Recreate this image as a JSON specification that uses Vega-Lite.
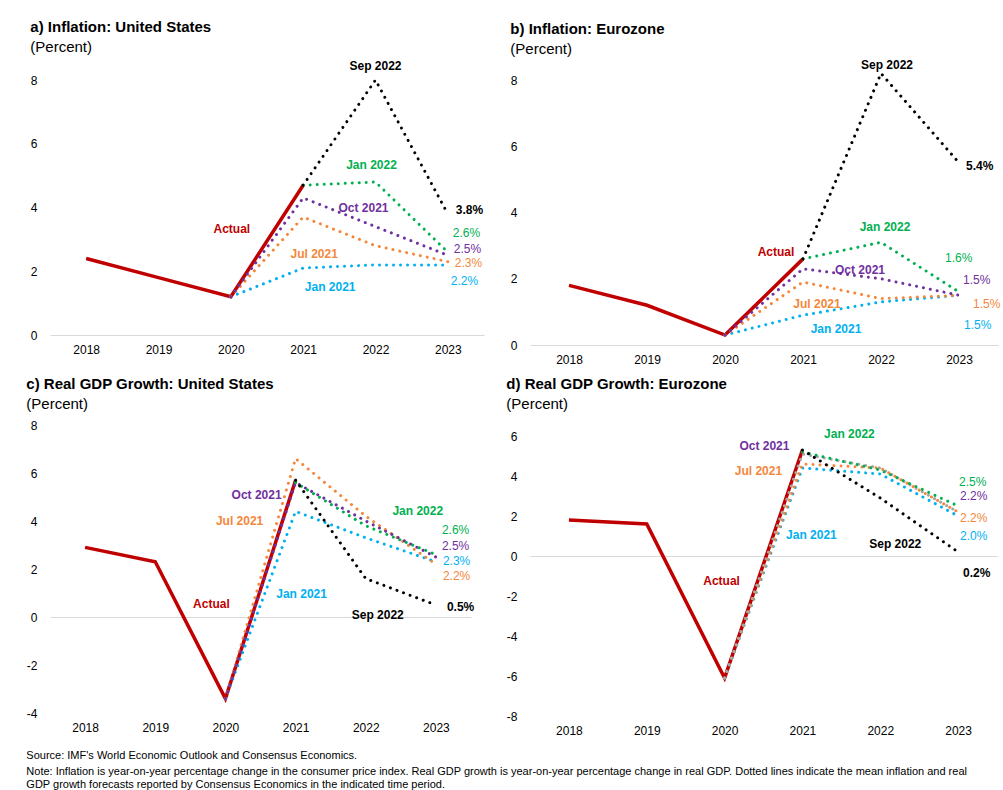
{
"$schema": "https://vega.github.io/schema/vega-lite/v6.json",
"background": "white",
"padding": {"left": 26, "top": 20, "right": 2, "bottom": 2},
"data": {"values": [
{"p":"a","s":"Actual","yr":"2018","v":2.4},{"p":"a","s":"Actual","yr":"2019","v":1.8},{"p":"a","s":"Actual","yr":"2020","v":1.2},{"p":"a","s":"Actual","yr":"2021","v":4.7},
{"p":"a","s":"Jan 2021","yr":"2020","v":1.2},{"p":"a","s":"Jan 2021","yr":"2021","v":2.1},{"p":"a","s":"Jan 2021","yr":"2022","v":2.2},{"p":"a","s":"Jan 2021","yr":"2023","v":2.2},
{"p":"a","s":"Jul 2021","yr":"2020","v":1.2},{"p":"a","s":"Jul 2021","yr":"2021","v":3.7},{"p":"a","s":"Jul 2021","yr":"2022","v":2.8},{"p":"a","s":"Jul 2021","yr":"2023","v":2.3},
{"p":"a","s":"Oct 2021","yr":"2020","v":1.2},{"p":"a","s":"Oct 2021","yr":"2021","v":4.3},{"p":"a","s":"Oct 2021","yr":"2022","v":3.4},{"p":"a","s":"Oct 2021","yr":"2023","v":2.5},
{"p":"a","s":"Jan 2022","yr":"2021","v":4.7},{"p":"a","s":"Jan 2022","yr":"2022","v":4.8},{"p":"a","s":"Jan 2022","yr":"2023","v":2.6},
{"p":"a","s":"Sep 2022","yr":"2021","v":4.7},{"p":"a","s":"Sep 2022","yr":"2022","v":8.0},{"p":"a","s":"Sep 2022","yr":"2023","v":3.8},
{"p":"b","s":"Actual","yr":"2018","v":1.8},{"p":"b","s":"Actual","yr":"2019","v":1.2},{"p":"b","s":"Actual","yr":"2020","v":0.3},{"p":"b","s":"Actual","yr":"2021","v":2.6},
{"p":"b","s":"Jan 2021","yr":"2020","v":0.3},{"p":"b","s":"Jan 2021","yr":"2021","v":0.9},{"p":"b","s":"Jan 2021","yr":"2022","v":1.3},{"p":"b","s":"Jan 2021","yr":"2023","v":1.5},
{"p":"b","s":"Jul 2021","yr":"2020","v":0.3},{"p":"b","s":"Jul 2021","yr":"2021","v":1.9},{"p":"b","s":"Jul 2021","yr":"2022","v":1.4},{"p":"b","s":"Jul 2021","yr":"2023","v":1.5},
{"p":"b","s":"Oct 2021","yr":"2020","v":0.3},{"p":"b","s":"Oct 2021","yr":"2021","v":2.3},{"p":"b","s":"Oct 2021","yr":"2022","v":2.0},{"p":"b","s":"Oct 2021","yr":"2023","v":1.5},
{"p":"b","s":"Jan 2022","yr":"2021","v":2.6},{"p":"b","s":"Jan 2022","yr":"2022","v":3.1},{"p":"b","s":"Jan 2022","yr":"2023","v":1.6},
{"p":"b","s":"Sep 2022","yr":"2021","v":2.6},{"p":"b","s":"Sep 2022","yr":"2022","v":8.2},{"p":"b","s":"Sep 2022","yr":"2023","v":5.5},
{"p":"c","s":"Actual","yr":"2018","v":2.9},{"p":"c","s":"Actual","yr":"2019","v":2.3},{"p":"c","s":"Actual","yr":"2020","v":-3.4},{"p":"c","s":"Actual","yr":"2021","v":5.7},
{"p":"c","s":"Jan 2021","yr":"2020","v":-3.4},{"p":"c","s":"Jan 2021","yr":"2021","v":4.4},{"p":"c","s":"Jan 2021","yr":"2022","v":3.3},{"p":"c","s":"Jan 2021","yr":"2023","v":2.3},
{"p":"c","s":"Jul 2021","yr":"2020","v":-3.4},{"p":"c","s":"Jul 2021","yr":"2021","v":6.6},{"p":"c","s":"Jul 2021","yr":"2022","v":4.2},{"p":"c","s":"Jul 2021","yr":"2023","v":2.2},
{"p":"c","s":"Oct 2021","yr":"2020","v":-3.4},{"p":"c","s":"Oct 2021","yr":"2021","v":5.6},{"p":"c","s":"Oct 2021","yr":"2022","v":4.0},{"p":"c","s":"Oct 2021","yr":"2023","v":2.5},
{"p":"c","s":"Jan 2022","yr":"2021","v":5.6},{"p":"c","s":"Jan 2022","yr":"2022","v":3.8},{"p":"c","s":"Jan 2022","yr":"2023","v":2.6},
{"p":"c","s":"Sep 2022","yr":"2021","v":5.7},{"p":"c","s":"Sep 2022","yr":"2022","v":1.6},{"p":"c","s":"Sep 2022","yr":"2023","v":0.5},
{"p":"d","s":"Actual","yr":"2018","v":1.8},{"p":"d","s":"Actual","yr":"2019","v":1.6},{"p":"d","s":"Actual","yr":"2020","v":-6.1},{"p":"d","s":"Actual","yr":"2021","v":5.3},
{"p":"d","s":"Jan 2021","yr":"2020","v":-6.1},{"p":"d","s":"Jan 2021","yr":"2021","v":4.4},{"p":"d","s":"Jan 2021","yr":"2022","v":4.1},{"p":"d","s":"Jan 2021","yr":"2023","v":2.0},
{"p":"d","s":"Jul 2021","yr":"2020","v":-6.1},{"p":"d","s":"Jul 2021","yr":"2021","v":4.6},{"p":"d","s":"Jul 2021","yr":"2022","v":4.4},{"p":"d","s":"Jul 2021","yr":"2023","v":2.2},
{"p":"d","s":"Oct 2021","yr":"2020","v":-6.1},{"p":"d","s":"Oct 2021","yr":"2021","v":5.1},{"p":"d","s":"Oct 2021","yr":"2022","v":4.4},{"p":"d","s":"Oct 2021","yr":"2023","v":2.2},
{"p":"d","s":"Jan 2022","yr":"2021","v":5.2},{"p":"d","s":"Jan 2022","yr":"2022","v":4.3},{"p":"d","s":"Jan 2022","yr":"2023","v":2.5},
{"p":"d","s":"Sep 2022","yr":"2021","v":5.3},{"p":"d","s":"Sep 2022","yr":"2022","v":2.9},{"p":"d","s":"Sep 2022","yr":"2023","v":0.2}
]},
"columns": 2,
"spacing": {"row": 80, "column": 46},
"bounds": "flush",
"resolve": {"scale": {"x": "independent", "y": "independent", "color": "independent"}},
"title": {"text": "Source: IMF's World Economic Outlook and Consensus Economics.", "subtitle": ["Note: Inflation is year-on-year percentage change in the consumer price index. Real GDP growth is year-on-year percentage change in real GDP. Dotted lines indicate the mean inflation and real", "GDP growth forecasts reported by Consensus Economics in the indicated time period."], "orient": "bottom", "anchor": "start", "frame": "bounds", "fontSize": 11, "fontWeight": "normal", "color": "#000", "subtitleFontSize": 11, "subtitleColor": "#000", "subtitlePadding": 5, "subtitleLineHeight": 13, "offset": 14},
"concat": [
{
"width": 434, "height": 255,
"title": {"text": "a) Inflation: United States", "subtitle": "(Percent)", "anchor": "start", "frame": "bounds", "offset": 5},
"transform": [{"filter": "datum.p==='a'"}],
"encoding": {
"x": {"field": "yr", "type": "ordinal", "scale": {"type": "point", "padding": 0.5}, "axis": {"labelAngle": 0, "labelPadding": 9, "title": null}},
"y": {"field": "v", "type": "quantitative", "scale": {"domain": [0, 8], "nice": false, "zero": false}, "axis": {"values": [0, 2, 4, 6, 8], "labelExpr": "datum.value + ''", "labelPadding": 13, "title": null, "grid": true, "gridColor": "#D9D9D9", "gridOpacity": {"condition": {"test": "datum.value===0", "value": 1}, "value": 0}}}
},
"layer": [
{"transform": [{"filter": "datum.s==='Actual'"}], "mark": {"type": "line", "color": "#C00000", "strokeWidth": 3.5}},
{"transform": [{"filter": "datum.s!=='Actual'"}], "mark": {"type": "line", "strokeWidth": 3, "strokeDash": [0.01, 7], "strokeCap": "round"}, "encoding": {"color": {"field": "s", "type": "nominal", "scale": {"domain": ["Jan 2021", "Jul 2021", "Oct 2021", "Jan 2022", "Sep 2022"], "range": ["#00B0F0", "#F4873B", "#7030A0", "#00B050", "#000000"]}, "legend": null}}},
{"transform": [{"filter": "datum.s==='Actual'&&datum.yr==='2020'"}], "mark": {"type": "text", "text": "Actual", "dx": 1, "dy": -68, "color": "#C00000", "fontWeight": "bold"}},
{"transform": [{"filter": "datum.s==='Sep 2022'&&datum.yr==='2022'"}], "mark": {"type": "text", "text": "Sep 2022", "dx": 0, "dy": -14, "color": "#000000", "fontWeight": "bold"}},
{"transform": [{"filter": "datum.s==='Jan 2022'&&datum.yr==='2022'"}], "mark": {"type": "text", "text": "Jan 2022", "dx": -4, "dy": -17, "color": "#00B050", "fontWeight": "bold"}},
{"transform": [{"filter": "datum.s==='Oct 2021'&&datum.yr==='2022'"}], "mark": {"type": "text", "text": "Oct 2021", "dx": -12, "dy": -19, "color": "#7030A0", "fontWeight": "bold"}},
{"transform": [{"filter": "datum.s==='Jul 2021'&&datum.yr==='2021'"}], "mark": {"type": "text", "text": "Jul 2021", "dx": 11, "dy": 37, "color": "#F4873B", "fontWeight": "bold"}},
{"transform": [{"filter": "datum.s==='Jan 2021'&&datum.yr==='2021'"}], "mark": {"type": "text", "text": "Jan 2021", "dx": 27, "dy": 19, "color": "#00B0F0", "fontWeight": "bold"}},
{"transform": [{"filter": "datum.s==='Sep 2022'&&datum.yr==='2023'"}], "mark": {"type": "text", "text": "3.8%", "align": "left", "dx": 8, "dy": -4, "color": "#000000", "fontWeight": "bold"}},
{"transform": [{"filter": "datum.s==='Jan 2022'&&datum.yr==='2023'"}], "mark": {"type": "text", "text": "2.6%", "align": "left", "dx": 5, "dy": -19, "color": "#00B050"}},
{"transform": [{"filter": "datum.s==='Oct 2021'&&datum.yr==='2023'"}], "mark": {"type": "text", "text": "2.5%", "align": "left", "dx": 6, "dy": -6, "color": "#7030A0"}},
{"transform": [{"filter": "datum.s==='Jul 2021'&&datum.yr==='2023'"}], "mark": {"type": "text", "text": "2.3%", "align": "left", "dx": 7, "dy": 1, "color": "#F4873B"}},
{"transform": [{"filter": "datum.s==='Jan 2021'&&datum.yr==='2023'"}], "mark": {"type": "text", "text": "2.2%", "align": "left", "dx": 3, "dy": 16, "color": "#00B0F0"}}
]
},
{
"width": 468, "height": 265,
"title": {"text": "b) Inflation: Eurozone", "subtitle": "(Percent)", "anchor": "start", "frame": "bounds", "offset": 2},
"transform": [{"filter": "datum.p==='b'"}],
"encoding": {
"x": {"field": "yr", "type": "ordinal", "scale": {"type": "point", "padding": 0.5}, "axis": {"labelAngle": 0, "labelPadding": 9, "title": null}},
"y": {"field": "v", "type": "quantitative", "scale": {"domain": [0, 8], "nice": false, "zero": false}, "axis": {"values": [0, 2, 4, 6, 8], "labelExpr": "datum.value + ''", "labelPadding": 13, "title": null, "grid": true, "gridColor": "#D9D9D9", "gridOpacity": {"condition": {"test": "datum.value===0", "value": 1}, "value": 0}}}
},
"layer": [
{"transform": [{"filter": "datum.s==='Actual'"}], "mark": {"type": "line", "color": "#C00000", "strokeWidth": 3.5}},
{"transform": [{"filter": "datum.s!=='Actual'"}], "mark": {"type": "line", "strokeWidth": 3, "strokeDash": [0.01, 7], "strokeCap": "round"}, "encoding": {"color": {"field": "s", "type": "nominal", "scale": {"domain": ["Jan 2021", "Jul 2021", "Oct 2021", "Jan 2022", "Sep 2022"], "range": ["#00B0F0", "#F4873B", "#7030A0", "#00B050", "#000000"]}, "legend": null}}},
{"transform": [{"filter": "datum.s==='Actual'&&datum.yr==='2021'"}], "mark": {"type": "text", "text": "Actual", "dx": -27, "dy": -7, "color": "#C00000", "fontWeight": "bold"}},
{"transform": [{"filter": "datum.s==='Sep 2022'&&datum.yr==='2022'"}], "mark": {"type": "text", "text": "Sep 2022", "dx": 6, "dy": -8, "color": "#000000", "fontWeight": "bold"}},
{"transform": [{"filter": "datum.s==='Jan 2022'&&datum.yr==='2022'"}], "mark": {"type": "text", "text": "Jan 2022", "dx": 4, "dy": -15, "color": "#00B050", "fontWeight": "bold"}},
{"transform": [{"filter": "datum.s==='Oct 2021'&&datum.yr==='2022'"}], "mark": {"type": "text", "text": "Oct 2021", "dx": -21, "dy": -9, "color": "#7030A0", "fontWeight": "bold"}},
{"transform": [{"filter": "datum.s==='Jul 2021'&&datum.yr==='2021'"}], "mark": {"type": "text", "text": "Jul 2021", "dx": 14, "dy": 22, "color": "#F4873B", "fontWeight": "bold"}},
{"transform": [{"filter": "datum.s==='Jan 2021'&&datum.yr==='2021'"}], "mark": {"type": "text", "text": "Jan 2021", "dx": 33, "dy": 14, "color": "#00B0F0", "fontWeight": "bold"}},
{"transform": [{"filter": "datum.s==='Sep 2022'&&datum.yr==='2023'"}], "mark": {"type": "text", "text": "5.4%", "align": "left", "dx": 7, "dy": 3, "color": "#000000", "fontWeight": "bold"}},
{"transform": [{"filter": "datum.s==='Jan 2022'&&datum.yr==='2023'"}], "mark": {"type": "text", "text": "1.6%", "align": "left", "dx": -14, "dy": -34, "color": "#00B050"}},
{"transform": [{"filter": "datum.s==='Oct 2021'&&datum.yr==='2023'"}], "mark": {"type": "text", "text": "1.5%", "align": "left", "dx": 4, "dy": -15, "color": "#7030A0"}},
{"transform": [{"filter": "datum.s==='Jul 2021'&&datum.yr==='2023'"}], "mark": {"type": "text", "text": "1.5%", "align": "left", "dx": 14, "dy": 9, "color": "#F4873B"}},
{"transform": [{"filter": "datum.s==='Jan 2021'&&datum.yr==='2023'"}], "mark": {"type": "text", "text": "1.5%", "align": "left", "dx": 5, "dy": 30, "color": "#00B0F0"}}
]
},
{
"width": 421, "height": 288,
"title": {"text": "c) Real GDP Growth: United States", "subtitle": "(Percent)", "anchor": "start", "frame": "bounds", "offset": 7},
"transform": [{"filter": "datum.p==='c'"}],
"encoding": {
"x": {"field": "yr", "type": "ordinal", "scale": {"type": "point", "padding": 0.5}, "axis": {"labelAngle": 0, "labelPadding": 9, "title": null}},
"y": {"field": "v", "type": "quantitative", "scale": {"domain": [-4, 8], "nice": false, "zero": false}, "axis": {"values": [-4, -2, 0, 2, 4, 6, 8], "labelExpr": "datum.value + ''", "labelPadding": 13, "title": null, "grid": true, "gridColor": "#D9D9D9", "gridOpacity": {"condition": {"test": "datum.value===0", "value": 1}, "value": 0}}}
},
"layer": [
{"transform": [{"filter": "datum.s==='Actual'"}], "mark": {"type": "line", "color": "#C00000", "strokeWidth": 3.5}},
{"transform": [{"filter": "datum.s!=='Actual'"}], "mark": {"type": "line", "strokeWidth": 3, "strokeDash": [0.01, 7], "strokeCap": "round"}, "encoding": {"color": {"field": "s", "type": "nominal", "scale": {"domain": ["Jan 2021", "Jul 2021", "Oct 2021", "Jan 2022", "Sep 2022"], "range": ["#00B0F0", "#F4873B", "#7030A0", "#00B050", "#000000"]}, "legend": null}}},
{"transform": [{"filter": "datum.s==='Actual'&&datum.yr==='2020'"}], "mark": {"type": "text", "text": "Actual", "dx": -14, "dy": -95, "color": "#C00000", "fontWeight": "bold"}},
{"transform": [{"filter": "datum.s==='Oct 2021'&&datum.yr==='2021'"}], "mark": {"type": "text", "text": "Oct 2021", "dx": -39, "dy": 12, "color": "#7030A0", "fontWeight": "bold"}},
{"transform": [{"filter": "datum.s==='Jul 2021'&&datum.yr==='2021'"}], "mark": {"type": "text", "text": "Jul 2021", "dx": -56, "dy": 62, "color": "#F4873B", "fontWeight": "bold"}},
{"transform": [{"filter": "datum.s==='Jan 2021'&&datum.yr==='2021'"}], "mark": {"type": "text", "text": "Jan 2021", "dx": 6, "dy": 83, "color": "#00B0F0", "fontWeight": "bold"}},
{"transform": [{"filter": "datum.s==='Jan 2022'&&datum.yr==='2022'"}], "mark": {"type": "text", "text": "Jan 2022", "dx": 52, "dy": -15, "color": "#00B050", "fontWeight": "bold"}},
{"transform": [{"filter": "datum.s==='Sep 2022'&&datum.yr==='2022'"}], "mark": {"type": "text", "text": "Sep 2022", "dx": 12, "dy": 36, "color": "#000000", "fontWeight": "bold"}},
{"transform": [{"filter": "datum.s==='Jan 2022'&&datum.yr==='2023'"}], "mark": {"type": "text", "text": "2.6%", "align": "left", "dx": 6, "dy": -25, "color": "#00B050"}},
{"transform": [{"filter": "datum.s==='Oct 2021'&&datum.yr==='2023'"}], "mark": {"type": "text", "text": "2.5%", "align": "left", "dx": 6, "dy": -11, "color": "#7030A0"}},
{"transform": [{"filter": "datum.s==='Jan 2021'&&datum.yr==='2023'"}], "mark": {"type": "text", "text": "2.3%", "align": "left", "dx": 7, "dy": -1, "color": "#00B0F0"}},
{"transform": [{"filter": "datum.s==='Jul 2021'&&datum.yr==='2023'"}], "mark": {"type": "text", "text": "2.2%", "align": "left", "dx": 7, "dy": 12, "color": "#F4873B"}},
{"transform": [{"filter": "datum.s==='Sep 2022'&&datum.yr==='2023'"}], "mark": {"type": "text", "text": "0.5%", "align": "left", "dx": 11, "dy": 2, "color": "#000000", "fontWeight": "bold"}}
]
},
{
"width": 467, "height": 291,
"title": {"text": "d) Real GDP Growth: Eurozone", "subtitle": "(Percent)", "anchor": "start", "frame": "bounds", "offset": 13},
"transform": [{"filter": "datum.p==='d'"}],
"encoding": {
"x": {"field": "yr", "type": "ordinal", "scale": {"type": "point", "padding": 0.5}, "axis": {"labelAngle": 0, "labelPadding": 9, "title": null}},
"y": {"field": "v", "type": "quantitative", "scale": {"domain": [-8, 6.55], "nice": false, "zero": false}, "axis": {"values": [-8, -6, -4, -2, 0, 2, 4, 6], "labelExpr": "datum.value + ''", "labelPadding": 13, "title": null, "grid": true, "gridColor": "#D9D9D9", "gridOpacity": {"condition": {"test": "datum.value===0", "value": 1}, "value": 0}}}
},
"layer": [
{"transform": [{"filter": "datum.s==='Actual'"}], "mark": {"type": "line", "color": "#C00000", "strokeWidth": 3.5}},
{"transform": [{"filter": "datum.s!=='Actual'"}], "mark": {"type": "line", "strokeWidth": 3, "strokeDash": [0.01, 7], "strokeCap": "round"}, "encoding": {"color": {"field": "s", "type": "nominal", "scale": {"domain": ["Jan 2021", "Jul 2021", "Oct 2021", "Jan 2022", "Sep 2022"], "range": ["#00B0F0", "#F4873B", "#A6A6A6", "#00B050", "#000000"]}, "legend": null}}},
{"transform": [{"filter": "datum.s==='Actual'&&datum.yr==='2020'"}], "mark": {"type": "text", "text": "Actual", "dx": -3, "dy": -97, "color": "#C00000", "fontWeight": "bold"}},
{"transform": [{"filter": "datum.s==='Oct 2021'&&datum.yr==='2021'"}], "mark": {"type": "text", "text": "Oct 2021", "dx": -38, "dy": -8, "color": "#7030A0", "fontWeight": "bold"}},
{"transform": [{"filter": "datum.s==='Jul 2021'&&datum.yr==='2021'"}], "mark": {"type": "text", "text": "Jul 2021", "dx": -44, "dy": 7, "color": "#F4873B", "fontWeight": "bold"}},
{"transform": [{"filter": "datum.s==='Jan 2021'&&datum.yr==='2021'"}], "mark": {"type": "text", "text": "Jan 2021", "dx": 9, "dy": 67, "color": "#00B0F0", "fontWeight": "bold"}},
{"transform": [{"filter": "datum.s==='Jan 2022'&&datum.yr==='2021'"}], "mark": {"type": "text", "text": "Jan 2022", "dx": 47, "dy": -18, "color": "#00B050", "fontWeight": "bold"}},
{"transform": [{"filter": "datum.s==='Sep 2022'&&datum.yr==='2022'"}], "mark": {"type": "text", "text": "Sep 2022", "dx": 15, "dy": 46, "color": "#000000", "fontWeight": "bold"}},
{"transform": [{"filter": "datum.s==='Jan 2022'&&datum.yr==='2023'"}], "mark": {"type": "text", "text": "2.5%", "align": "left", "dx": 1, "dy": -24, "color": "#00B050"}},
{"transform": [{"filter": "datum.s==='Oct 2021'&&datum.yr==='2023'"}], "mark": {"type": "text", "text": "2.2%", "align": "left", "dx": 2, "dy": -16, "color": "#7030A0"}},
{"transform": [{"filter": "datum.s==='Jul 2021'&&datum.yr==='2023'"}], "mark": {"type": "text", "text": "2.2%", "align": "left", "dx": 2, "dy": 6, "color": "#F4873B"}},
{"transform": [{"filter": "datum.s==='Jan 2021'&&datum.yr==='2023'"}], "mark": {"type": "text", "text": "2.0%", "align": "left", "dx": 2, "dy": 20, "color": "#00B0F0"}},
{"transform": [{"filter": "datum.s==='Sep 2022'&&datum.yr==='2023'"}], "mark": {"type": "text", "text": "0.2%", "align": "left", "dx": 5, "dy": 21, "color": "#000000", "fontWeight": "bold"}}
]
}
],
"config": {
"font": "Liberation Sans",
"view": {"stroke": null},
"axis": {"domain": false, "ticks": false, "grid": false, "labelFont": "Liberation Sans", "labelFontSize": 12, "labelColor": "#000000"},
"text": {"font": "Liberation Sans", "fontSize": 12, "baseline": "middle"},
"title": {"font": "Liberation Sans", "fontSize": 15, "fontWeight": "bold", "color": "#000000", "subtitleFont": "Liberation Sans", "subtitleFontSize": 15, "subtitleColor": "#000000", "subtitlePadding": 5}
}
}
